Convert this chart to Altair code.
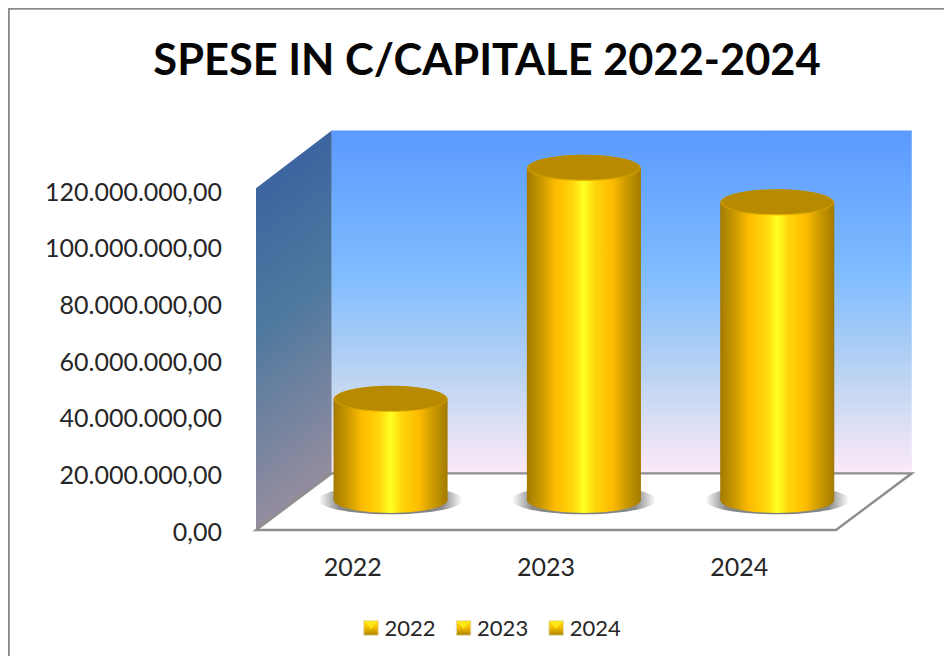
import altair as alt
import pandas as pd

years = ["2022", "2023", "2024"]
values = [35600000, 117200000, 105000000]
y_ticks = [0, 20000000, 40000000, 60000000, 80000000, 100000000, 120000000]
y_labels = ["0,00", "20.000.000,00", "40.000.000,00", "60.000.000,00",
            "80.000.000,00", "100.000.000,00", "120.000.000,00"]
title_text = "SPESE IN C/CAPITALE 2022-2024"

DEPTH_U = 0.392       # floor depth in category units
DEPTH_V = 20000000    # floor depth in value units
RADIUS_U = 0.295      # cylinder half width in category units
BASE_V = 10600000     # cylinder base centre above the front edge

FONT = "Lato"
W, H = 936, 648

x_scale = alt.Scale(domain=[0, 3], range=[248, 828], nice=False, zero=False)
y_scale = alt.Scale(domain=[0, 120000000], range=[522, 182], nice=False, zero=False)
X = lambda f: alt.X(f, type="quantitative", scale=x_scale, axis=None)
Y = lambda f: alt.Y(f, type="quantitative", scale=y_scale, axis=None)


def grad(stops, x1=0, y1=0, x2=1, y2=0):
    return alt.LinearGradient(
        gradient="linear", x1=x1, y1=y1, x2=x2, y2=y2,
        stops=[alt.GradientStop(offset=o, color=c) for o, c in stops],
    )


gold = grad([(0, "#a27a00"), (0.12, "#c89800"), (0.25, "#fdbb00"), (0.4, "#ffd60a"),
             (0.5, "#ffff24"), (0.6, "#ffd60a"), (0.75, "#fdbb00"), (0.88, "#c89800"),
             (1, "#a27a00")])
rim = grad([(0, "#c49200"), (0.5, "#f2b900"), (1, "#c49200")])

ELLIPSE = "M-1,0 A1,0.228 0 1,1 1,0 A1,0.228 0 1,1 -1,0 Z"

cyl = pd.DataFrame({"year": years, "value": values, "i": [0, 1, 2]})
cyl["u"] = cyl["i"] + 0.5 + DEPTH_U / 2
cyl["u1"] = cyl["u"] - RADIUS_U
cyl["u2"] = cyl["u"] + RADIUS_U
cyl["base"] = BASE_V
cyl["top"] = cyl["value"] + BASE_V
cyl["shadow"] = BASE_V
cyl["toplid"] = cyl["top"] + 250000

# tick labels, drawn through the same scales
ytick_df = pd.DataFrame({"v": y_ticks, "label": y_labels, "u": [0] * 7})
ylabels = alt.Chart(ytick_df).mark_text(
    align="right", baseline="middle", dx=-34, dy=2.5, font=FONT, fontSize=25, color="#262626",
).encode(x=X("u"), y=Y("v"), text="label:N")

xtick_df = pd.DataFrame({"u": [0.5, 1.5, 2.5], "v": [0, 0, 0], "label": years})
xlabels = alt.Chart(xtick_df).mark_text(
    align="center", baseline="middle", dy=38, font=FONT, fontSize=25, color="#262626",
).encode(x=X("u"), y=Y("v"), text="label:N")

# walls
side_df = pd.DataFrame({"u": [0, DEPTH_U], "lo": [0, DEPTH_V], "hi": [120600000, 141000000]})
side = alt.Chart(side_df).mark_area(
    orient="vertical",
    fill=grad([(0, "#38609f"), (0.45, "#50799f"), (1, "#a0909f")], x1=0.43, y1=0, x2=0.57, y2=1),
).encode(x=X("u"), y=Y("lo"), y2="hi")

back_df = pd.DataFrame({"u": [DEPTH_U], "u2": [3 + DEPTH_U], "lo": [DEPTH_V], "hi": [141000000]})
back = alt.Chart(back_df).mark_rect(
    fill=grad([(0, "#5a9aff"), (0.42, "#80bcff"), (0.72, "#bcd4f2"), (1, "#fdeaf8")], x1=0, y1=0, x2=0, y2=1),
).encode(x=X("u"), x2="u2", y=Y("lo"), y2="hi")

# floor outline
floor_df = pd.DataFrame({
    "ord": [0, 1, 2, 3, 4],
    "u": [DEPTH_U, 3 + DEPTH_U, 3, 0, DEPTH_U],
    "v": [DEPTH_V, DEPTH_V, 0, 0, DEPTH_V],
})
floor = alt.Chart(floor_df).mark_line(color="#8e8e8e", strokeWidth=2.4).encode(
    x=X("u"), y=Y("v"), order="ord:O")

# cylinders
shadow = alt.Chart(cyl).mark_point(
    shape="M-1,0 A1,0.2 0 1,1 1,0 A1,0.2 0 1,1 -1,0 Z", filled=True, opacity=1, size=144 ** 2, strokeWidth=0,
    fill=alt.RadialGradient(gradient="radial", stops=[
        alt.GradientStop(offset=0, color="#7a7a7a"), alt.GradientStop(offset=0.72, color="#8a8a8a"),
        alt.GradientStop(offset=1, color="#ffffff")]),
).encode(x=X("u"), y=Y("shadow"))

bottom = alt.Chart(cyl).mark_point(
    shape=ELLIPSE, filled=True, opacity=1, size=114 ** 2, strokeWidth=0, fill=gold,
).encode(x=X("u"), y=Y("base"))

body = alt.Chart(cyl).mark_rect(fill=gold).encode(x=X("u1"), x2="u2", y=Y("base"), y2="top")

lid_rim = alt.Chart(cyl).mark_point(
    shape=ELLIPSE, filled=True, opacity=1, size=114 ** 2, strokeWidth=0, fill=rim,
).encode(x=X("u"), y=Y("top"))

lid = alt.Chart(cyl).mark_point(
    shape=ELLIPSE, filled=True, opacity=1, size=110 ** 2, strokeWidth=0, fill="#b88a00",
).encode(x=X("u"), y=Y("toplid"))

# legend
legend_layers = []
for n, yr in enumerate(years):
    cx = 363 + n * 92.6
    d = pd.DataFrame({"label": [yr]})
    legend_layers.append(alt.Chart(d).mark_point(
        shape="square", filled=True, opacity=1, size=210, stroke="#e9dcae", strokeWidth=1,
        fill=grad([(0, "#ffe000"), (0.5, "#f4bc00"), (1, "#a98000")], x1=0, y1=0, x2=0, y2=1),
    ).encode(x=alt.value(cx), y=alt.value(620)))
    legend_layers.append(alt.Chart(d).mark_point(
        shape="M-1,-1 L1,-1 L0,0.1 Z", filled=True, opacity=1, size=160, strokeWidth=0, fill="#ffe81a",
    ).encode(x=alt.value(cx), y=alt.value(620)))
    legend_layers.append(alt.Chart(d).mark_text(
        align="left", baseline="middle", font=FONT, fontSize=22, color="#262626",
    ).encode(x=alt.value(cx + 13.5), y=alt.value(621), text="label:N"))

# title
title = alt.Chart(pd.DataFrame({"t": [title_text]})).mark_text(
    align="center", baseline="alphabetic", font=FONT, fontWeight="bold", fontSize=43.4, color="#050505",
).encode(x=alt.value(479), y=alt.value(67), text="t:N")

# frame
frame_left = alt.Chart(pd.DataFrame({"a": [0]})).mark_rule(color="#8a8a8a", strokeWidth=2.6).encode(
    x=alt.value(0.5), y=alt.value(0), y2=alt.value(H))
frame_top = alt.Chart(pd.DataFrame({"a": [0]})).mark_rule(color="#8a8a8a", strokeWidth=2.6).encode(
    y=alt.value(0.5), x=alt.value(0), x2=alt.value(W))

chart = alt.layer(
    side, back, floor, shadow, bottom, body, lid_rim, lid,
    ylabels, xlabels, *legend_layers, title, frame_left, frame_top,
).properties(
    width=W, height=H, padding=0, background="white",
    autosize=alt.AutoSizeParams(type="none"),
).configure_view(stroke=None)

chart.save("out.html", embed_options={"renderer": "svg", "actions": False})
